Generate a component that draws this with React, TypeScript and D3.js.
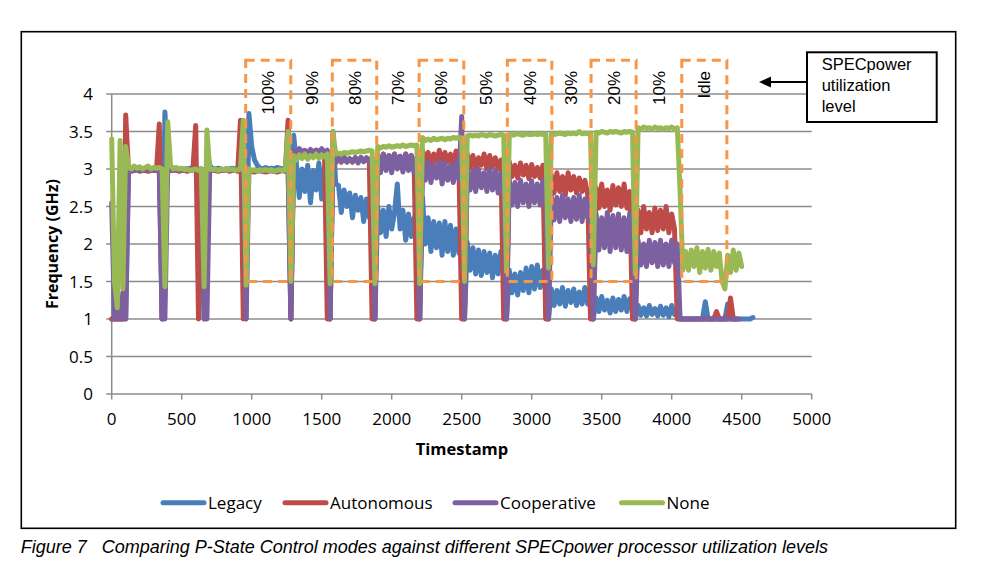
import React from 'react';
import * as d3 from 'd3';

// Sampling step of the timestamp axis (one value every 20 units)
const TIME_STEP = 20;

// Frequency (GHz), one value per 20 timestamps (0 … 4580)
const legacy: (number | null)[] = [
  1, 1, 1, 1, 1, 1, 3.0, 3.0, 3.01, 3.0,
  2.99, 3.0, 3.0, 3.01, 3.0, 3.0, 3.0, 3.0, 1.0, 3.76,
  3.05, 3.0, 3.0, 3.01, 3.0, 2.99, 3.0, 3.0, 3.01, 3.0,
  3.0, 3.0, 3.0, 1.0, 3.25, 3.05, 3.0, 3.0, 3.01, 3.0,
  2.99, 3.0, 3.0, 3.01, 3.0, 3.0, 3.0, 3.0, 1.0, 3.74,
  3.3, 3.12, 3.05, 3.01, 3.0, 3.02, 3.0, 3.01, 3.0, 3.02,
  3.01, 3.0, 3.01, 3.0, 1.0, 3.45, 3.05, 2.62, 3.0, 2.7,
  3.05, 2.55, 2.98, 2.72, 3.08, 2.6, 3.02, 2.8, 1.0, 3.5,
  2.8, 2.78, 2.42, 2.72, 2.5, 2.68, 2.35, 2.65, 2.45, 2.62,
  2.3, 2.6, 2.35, 2.55, 1.0, 2.5, 2.15, 2.45, 2.1, 2.5,
  2.2, 2.42, 2.8, 2.2, 2.45, 2.05, 2.4, 2.1, 2.35, 2.1,
  1.0, 2.62, 2.0, 2.35, 1.9, 2.3, 1.95, 2.28, 1.85, 2.3,
  1.9, 2.25, 1.85, 2.2, 1.88, 2.15, 1.0, 2.02, 1.65, 1.95,
  1.6, 1.92, 1.58, 1.9, 1.62, 1.88, 1.55, 1.85, 1.6, 1.9,
  1.6, 1.0, 1.65, 1.35, 1.6, 1.32, 1.62, 1.38, 1.68, 1.35,
  1.7, 1.4, 1.72, 1.42, 1.65, 1.38, 1.0, 1.4, 1.18, 1.38,
  1.2, 1.42, 1.17, 1.38, 1.22, 1.4, 1.18, 1.36, 1.2, 1.42,
  1.2, 1.35, 1.0, 1.28, 1.1, 1.3, 1.12, 1.25, 1.08, 1.28,
  1.1, 1.26, 1.12, 1.3, 1.1, 1.27, 1.12, 1.0, 1.18, 1.05,
  1.15, 1.04, 1.18, 1.06, 1.14, 1.04, 1.17, 1.05, 1.15, 1.03,
  1.18, 1.06, 1.14, 1.0, 1, 1, 1, 1, 1, 1,
  1, 1, 1.23, 1, 1, 1, 1, 1, 1, 1,
  1.2, 1, 1, 1, 1, 1, 1, 1, 1, 1.02,
];

const autonomous: (number | null)[] = [
  1, 1, 1, 1, 1, 3.72, 2.98, 2.97, 2.98, 2.99,
  2.97, 2.98, 2.98, 2.97, 2.98, 2.99, 2.98, 3.6, 1.0, 2.98,
  2.97, 2.98, 2.98, 2.99, 2.97, 2.98, 2.98, 2.97, 2.98, 2.99,
  3.58, 1.0, 3.0, 2.98, 2.97, 2.98, 2.99, 2.98, 2.97, 2.98,
  2.98, 2.99, 2.97, 2.98, 2.98, 2.97, 3.65, 1.0, 2.97, 2.98,
  2.97, 2.96, 2.97, 2.98, 2.97, 2.96, 2.97, 2.98, 2.97, 2.96,
  2.97, 2.98, 2.97, 3.65, 1.0, 3.22, 3.2, 3.25, 3.21, 3.24,
  3.2, 3.23, 3.21, 3.25, 3.2, 3.23, 3.22, 1.0, 1.0, 3.15,
  3.1, 3.14, 3.09, 3.15, 3.1, 3.13, 3.09, 3.15, 3.11, 3.14,
  3.1, 3.15, 3.12, 1.0, 1.0, 3.18, 3.1, 3.2, 3.08, 3.18,
  3.12, 3.2, 3.1, 3.17, 3.08, 3.2, 3.12, 3.18, 3.1, 1.0,
  1.0, 3.25, 3.08, 3.22, 3.05, 3.2, 3.1, 3.25, 3.06, 3.22,
  3.1, 3.2, 3.05, 3.24, 3.08, 1.0, 1.0, 3.2, 3.02, 3.18,
  3.0, 3.15, 3.05, 3.2, 3.0, 3.18, 3.03, 3.15, 3.0, 3.12,
  1.0, 1.0, 3.1, 2.9, 3.05, 2.88, 3.08, 2.92, 3.05, 2.87,
  3.06, 2.9, 3.02, 2.88, 3.05, 1.0, 1.0, 2.92, 2.68, 2.95,
  2.7, 2.9, 2.65, 2.95, 2.72, 2.9, 2.68, 2.88, 2.7, 2.85,
  2.66, 1.0, 1.0, 2.75, 2.48, 2.8, 2.5, 2.72, 2.45, 2.78,
  2.52, 2.75, 2.5, 2.8, 2.48, 2.7, 1.0, 1.0, 2.45, 2.15,
  2.5, 2.2, 2.42, 2.15, 2.48, 2.18, 2.45, 2.2, 2.5, 2.15,
  2.4, 2.2, 1, 1, 1, 1, 1, 1, 1, 1,
  1, 1, 1, 1, 1, 1, 1.1, 1, 1, 1,
  1, 1.28, 1, 1, null, null, null, null, null, null,
];

const cooperative: (number | null)[] = [
  2.55, 1.0, 1.3, 1.0, 1.35, 1.0, 2.99, 3.0, 2.98, 2.99,
  3.0, 2.98, 2.99, 3.0, 2.99, 2.98, 3.0, 3.0, 1.0, 1.0,
  3.0, 2.99, 2.98, 3.0, 2.99, 2.98, 2.99, 3.0, 2.98, 2.99,
  3.0, 2.99, 2.98, 1.0, 1.0, 2.99, 2.98, 3.0, 2.99, 2.98,
  2.99, 3.0, 2.98, 2.99, 2.98, 3.0, 2.99, 2.99, 1.0, 2.98,
  2.97, 2.98, 2.99, 2.98, 2.97, 2.98, 2.99, 2.98, 2.97, 2.98,
  2.98, 2.99, 2.98, 3.0, 1.0, 3.24, 3.22, 3.27, 3.23, 3.25,
  3.21, 3.26, 3.22, 3.25, 3.23, 3.27, 3.22, 3.25, 1.0, 3.12,
  3.08, 3.15, 3.1, 3.16, 3.09, 3.14, 3.1, 3.15, 3.08, 3.16,
  3.1, 3.14, 3.09, 3.15, 1.0, 3.15, 2.95, 3.2, 2.98, 3.18,
  2.95, 3.2, 3.0, 3.17, 2.96, 3.2, 2.98, 3.18, 2.95, 3.15,
  1.0, 3.08, 2.85, 3.1, 2.82, 3.05, 2.88, 3.1, 2.8, 3.08,
  2.85, 3.05, 2.82, 3.1, 2.86, 3.7, 1.0, 3.0, 2.72, 2.98,
  2.7, 3.0, 2.75, 2.95, 2.7, 3.0, 2.72, 2.98, 2.68, 2.95,
  2.72, 1.0, 2.85, 2.52, 2.82, 2.5, 2.85, 2.55, 2.8, 2.5,
  2.84, 2.55, 2.8, 2.52, 2.85, 2.55, 1.0, 2.65, 2.32, 2.62,
  2.3, 2.65, 2.35, 2.6, 2.3, 2.62, 2.33, 2.65, 2.3, 2.6,
  2.35, 2.62, 1.0, 2.4, 1.92, 2.35, 1.95, 2.42, 1.9, 2.38,
  1.95, 2.4, 1.92, 2.35, 1.9, 2.4, 1.95, 1.0, 2.05, 1.72,
  2.0, 1.7, 2.05, 1.75, 2.02, 1.7, 2.05, 1.72, 2.0, 1.7,
  2.05, 1.75, 2.0, 1.0, 1, 1, 1, 1, 1, 1,
  1, 1, 1, 1, 1, 1, 1, 1, 1, 1,
  1, 1, 1, 1, 1, null, null, null, null, null,
];

const none: (number | null)[] = [
  3.4, 1.5, 1.15, 3.38, 1.4, 3.3, 3.02, 3.0, 3.04, 3.01,
  3.03, 3.0, 3.02, 3.04, 3.0, 3.02, 3.01, 3.02, 3.0, 1.43,
  3.63, 3.05, 3.0, 3.02, 3.0, 3.01, 2.99, 3.0, 2.98, 2.99,
  3.0, 2.98, 3.0, 1.43, 3.52, 3.0, 2.99, 3.0, 2.98, 3.0,
  2.99, 3.0, 2.99, 3.0, 2.98, 2.99, 3.0, 3.65, 1.45, 3.0,
  2.98, 2.99, 2.97, 2.99, 2.98, 2.99, 2.98, 2.99, 2.97, 2.98,
  2.99, 2.98, 2.99, 3.5, 1.5, 3.18, 3.12, 3.19, 3.14, 3.2,
  3.13, 3.18, 3.15, 3.2, 3.14, 3.19, 3.16, 3.2, 1.47, 3.5,
  3.2, 3.21, 3.2, 3.22, 3.21, 3.22, 3.23, 3.22, 3.23, 3.24,
  3.23, 3.24, 3.25, 3.24, 1.47, 3.3, 3.28, 3.3, 3.29, 3.31,
  3.29, 3.3, 3.31, 3.3, 3.32, 3.3, 3.31, 3.32, 3.31, 3.32,
  1.47, 3.42, 3.38, 3.4, 3.38, 3.41, 3.39, 3.4, 3.41, 3.39,
  3.41, 3.4, 3.42, 3.41, 3.42, 3.41, 1.5, 3.44, 3.45, 3.44,
  3.45, 3.44, 3.46, 3.45, 3.44, 3.46, 3.45, 3.44, 3.45, 3.46,
  3.45, 1.63, 3.46, 3.45, 3.46, 3.47, 3.46, 3.45, 3.47, 3.46,
  3.46, 3.47, 3.46, 3.47, 3.46, 3.47, 1.68, 3.47, 3.46, 3.47,
  3.48, 3.47, 3.46, 3.48, 3.47, 3.48, 3.47, 3.5, 3.47, 3.48,
  3.47, 3.48, 1.72, 3.49, 3.48, 3.5, 3.49, 3.48, 3.5, 3.49,
  3.5, 3.49, 3.48, 3.5, 3.49, 3.5, 3.49, 1.6, 3.55, 3.53,
  3.56, 3.54, 3.55, 3.53, 3.56, 3.54, 3.55, 3.53, 3.55, 3.54,
  3.56, 3.53, 3.55, 2.7, 1.65, 1.9, 1.65, 1.92, 1.7, 1.95,
  1.62, 1.9, 1.68, 1.93, 1.65, 1.9, 1.7, 1.88, 1.5, 1.4,
  1.85, 1.62, 1.92, 1.65, 1.88, 1.7, null, null, null, null,
];

const seriesNames = ['Legacy', 'Autonomous', 'Cooperative', 'None'];
const seriesValues = [legacy, autonomous, cooperative, none];
const seriesColors = ['#4A7EBB', '#BE4B48', '#7D60A0', '#98B954'];

const xTicks = [0, 500, 1000, 1500, 2000, 2500, 3000, 3500, 4000, 4500, 5000];
const yTicks = [0, 0.5, 1, 1.5, 2, 2.5, 3, 3.5, 4];

// SPECpower utilization levels and their timestamp boundaries
const levelNames = ['100%', '90%', '80%', '70%', '60%', '50%', '40%', '30%', '20%', '10%', 'Idle'];
const levelBounds = [957, 1279, 1576, 1893, 2196, 2515, 2826, 3144, 3424, 3746, 4072, 4394];
const boxTop = 4.45;
const boxBottom = 1.5;

const annotationLines = ['SPECpower', 'utilization', 'level'];
const captionLabel = 'Figure 7';
const captionText = 'Comparing P-State Control modes against different SPECpower processor utilization levels';

const legendLineX = [163, 285, 455, 621.5];

export default function App() {
  const x = d3.scaleLinear().domain([0, 5000]).range([111.7, 811.7]);
  const y = d3.scaleLinear().domain([0, 4]).range([394, 94]);

  const line = d3
    .line<number | null>()
    .defined((d) => d != null)
    .x((_, i) => x(i * TIME_STEP))
    .y((d) => y(d as number));

  const tickFont = "'Open Sans', sans-serif";
  const gridColor = '#8C8C8C';
  const orange = '#F79646';

  return (
    <svg
      width={1000}
      height={574}
      style={{ position: 'absolute', left: 0, top: 0, background: '#fff' }}
    >
      <rect x={0} y={0} width={1000} height={574} fill="#fff" />
      {/* chart frame */}
      <rect x={21.3} y={31.7} width={934.4} height={496.6} fill="none" stroke="#000" strokeWidth={1.6} />

      {/* gridlines */}
      {yTicks.map((t) => (
        <line key={'g' + t} x1={x(0) - 5.5} x2={x(5000)} y1={y(t)} y2={y(t)} stroke={gridColor} strokeWidth={1.5} />
      ))}
      {/* y axis */}
      <line x1={x(0)} x2={x(0)} y1={y(4)} y2={y(0)} stroke={gridColor} strokeWidth={1.5} />
      {/* x ticks */}
      {xTicks.map((t) => (
        <line key={'xt' + t} x1={x(t)} x2={x(t)} y1={y(0)} y2={y(0) + 5.5} stroke={gridColor} strokeWidth={1.5} />
      ))}
      {yTicks.map((t) => (
        <text key={'yl' + t} x={93} y={y(t) + 6} textAnchor="end" fontFamily={tickFont} fontSize={17} fill="#000">
          {String(t)}
        </text>
      ))}
      {xTicks.map((t) => (
        <text key={'xl' + t} x={x(t)} y={425} textAnchor="middle" fontFamily={tickFont} fontSize={17} fill="#000">
          {String(t)}
        </text>
      ))}
      <text
        transform={`translate(57.5, 244) rotate(-90)`}
        textAnchor="middle"
        fontFamily={tickFont}
        fontWeight="bold"
        fontSize={16}
        fill="#000"
      >
        Frequency (GHz)
      </text>
      <text x={462} y={455} textAnchor="middle" fontFamily={tickFont} fontWeight="bold" fontSize={16.5} fill="#000">
        Timestamp
      </text>

      {/* series */}
      {seriesValues.map((vals, si) => (
        <path
          key={seriesNames[si]}
          d={line(vals) || ''}
          fill="none"
          stroke={seriesColors[si]}
          strokeWidth={5}
          strokeLinejoin="round"
          strokeLinecap="round"
        />
      ))}

      {/* utilization level boxes */}
      {levelNames.map((name, i) =>
        i % 2 === 0 ? (
          <rect
            key={'box' + name}
            x={x(levelBounds[i])}
            y={y(boxTop)}
            width={x(levelBounds[i + 1]) - x(levelBounds[i])}
            height={y(boxBottom) - y(boxTop)}
            fill="none"
            stroke={orange}
            strokeWidth={3}
            strokeDasharray="9,6"
          />
        ) : null
      )}
      {levelNames.map((name, i) => (
        <text
          key={'lvl' + name}
          transform={`translate(${(x(levelBounds[i]) + x(levelBounds[i + 1])) / 2 + 6}, 71) rotate(-90)`}
          textAnchor="end"
          fontFamily="'Liberation Sans', Arial, sans-serif"
          fontSize={17}
          fill="#000"
        >
          {name}
        </text>
      ))}

      {/* annotation */}
      <rect x={807} y={52.3} width={129.7} height={69.7} fill="#fff" stroke="#000" strokeWidth={2} />
      {annotationLines.map((l, i) => (
        <text
          key={l}
          x={821.7}
          y={70 + i * 21}
          fontFamily="'Liberation Sans', Arial, sans-serif"
          fontSize={16.5}
          fill="#000"
        >
          {l}
        </text>
      ))}
      <line x1={807} x2={770} y1={82} y2={82} stroke="#000" strokeWidth={2} />
      <path d="M759,82 L771,76.5 L771,87.5 Z" fill="#000" />

      {/* legend */}
      {seriesNames.map((n, i) => (
        <g key={'leg' + n}>
          <line
            x1={legendLineX[i]}
            x2={legendLineX[i] + 41}
            y1={502.7}
            y2={502.7}
            stroke={seriesColors[i]}
            strokeWidth={5}
            strokeLinecap="round"
          />
          <text x={legendLineX[i] + 45} y={509.3} fontFamily={tickFont} fontSize={17} fill="#000">
            {n}
          </text>
        </g>
      ))}

      {/* caption */}
      <text x={20.7} y={552.7} fontFamily="'Liberation Sans', Arial, sans-serif" fontStyle="italic" fontSize={18} fill="#000">
        {captionLabel}
      </text>
      <text x={101.7} y={552.7} fontFamily="'Liberation Sans', Arial, sans-serif" fontStyle="italic" fontSize={18} fill="#000">
        {captionText}
      </text>
    </svg>
  );
}
